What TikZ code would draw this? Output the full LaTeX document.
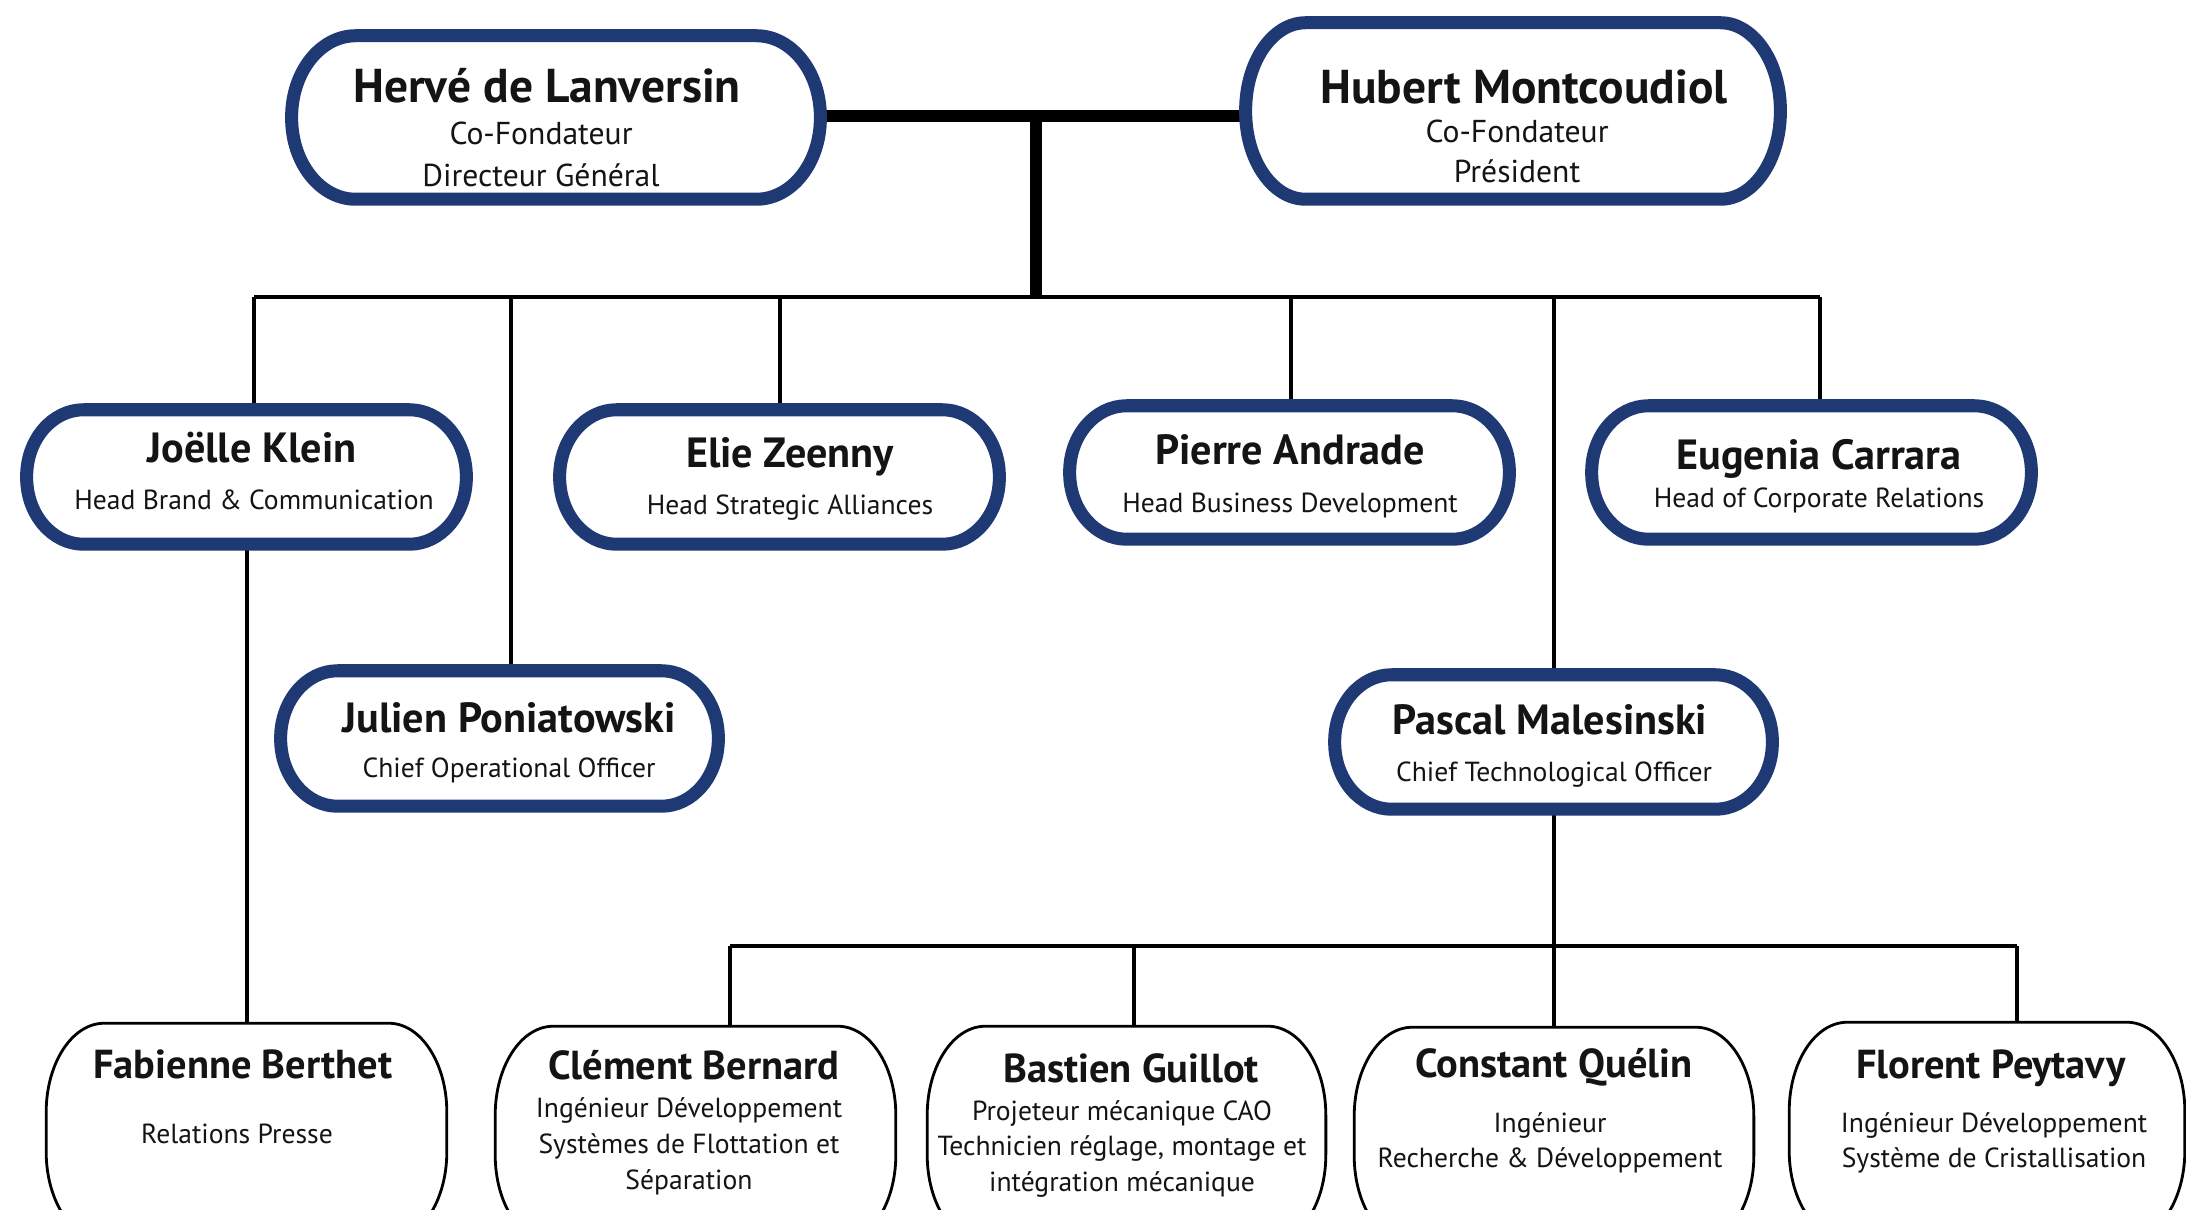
\documentclass[tikz,border=0pt]{standalone}
\usepackage{fontspec}
\setmainfont{PT Sans}
\usetikzlibrary{calc}
\definecolor{navy}{RGB}{30,57,116}
\definecolor{ink}{RGB}{20,20,20}
\newcommand\pillbox[4]{%
  \draw[#4] ($(#1.north west)+(#2,0)$) -- ($(#1.north east)+(-#2,0)$)
  arc[start angle=90,end angle=0,x radius=#2,y radius=#3]
  -- ($(#1.south east)+(0,#3)$)
  arc[start angle=0,end angle=-90,x radius=#2,y radius=#3]
  -- ($(#1.south west)+(#2,0)$)
  arc[start angle=270,end angle=180,x radius=#2,y radius=#3]
  -- ($(#1.north west)+(0,-#3)$)
  arc[start angle=180,end angle=90,x radius=#2,y radius=#3] -- cycle;}
\tikzset{
  boxnode/.style={rectangle, draw=none, inner sep=0pt},
  navybox/.style={draw=navy, line width=3.7pt, fill=white},
  plainbox/.style={draw=black, line width=0.8pt, fill=white},
  thickline/.style={draw=black, line width=3.4pt},
  conn/.style={draw=black, line width=1pt},
  nameA/.style={anchor=base, text=ink, font={\fontsize{13.5pt}{16pt}\selectfont\bfseries}},
  subA/.style={anchor=base, text=ink, font={\fontsize{9pt}{11pt}\selectfont}},
  nameB/.style={anchor=base, text=ink, font={\fontsize{12pt}{14pt}\selectfont\bfseries}},
  subB/.style={anchor=base, text=ink, font={\fontsize{7.85pt}{10pt}\selectfont}},
  nameC/.style={anchor=base, text=ink, font={\fontsize{11.5pt}{14pt}\selectfont\bfseries}},
}
\begin{document}
\begin{tikzpicture}[x=0.01cm, y=0.01cm]
\useasboundingbox (0,0) rectangle (2186,1209);
\clip (0,0) rectangle (2186,1209);
\fill[white] (0,0) rectangle (2186,1209);
% box anchors
\node[boxnode, minimum width=5.27cm, minimum height=1.62cm] (herve) at (556,1091.5) {};
\node[boxnode, minimum width=5.33cm, minimum height=1.75cm] (hubert) at (1513,1098) {};
\node[boxnode, minimum width=4.38cm, minimum height=1.33cm] (joelle) at (246.5,732) {};
\node[boxnode, minimum width=4.38cm, minimum height=1.33cm] (elie) at (779.5,732) {};
\node[boxnode, minimum width=4.38cm, minimum height=1.32cm] (pierre) at (1289.5,736.5) {};
\node[boxnode, minimum width=4.38cm, minimum height=1.32cm] (eugenia) at (1811.5,736.5) {};
\node[boxnode, minimum width=4.36cm, minimum height=1.34cm] (julien) at (499.5,470.5) {};
\node[boxnode, minimum width=4.36cm, minimum height=1.33cm] (pascal) at (1553.5,467) {};
\node[boxnode, minimum width=3.99cm, minimum height=2.16cm] (fabienne) at (246.5,77) {};
\node[boxnode, minimum width=3.99cm, minimum height=2.16cm] (clement) at (695.5,74) {};
\node[boxnode, minimum width=3.97cm, minimum height=2.16cm] (bastien) at (1126.5,74) {};
\node[boxnode, minimum width=3.98cm, minimum height=2.16cm] (constant) at (1554,73) {};
\node[boxnode, minimum width=3.94cm, minimum height=2.16cm] (florent) at (1987,78) {};
% junction coordinates
\coordinate (J) at (1036,1093);
\coordinate (busL) at (254,912);
\coordinate (busR) at (1820,912);
\coordinate (dJu) at (511,912);
\coordinate (dEl) at (780,912);
\coordinate (dPi) at (1291,912);
\coordinate (dPa) at (1554,912);
\coordinate (fx) at (247,600);
\coordinate (bus2) at (1554,263);
\coordinate (b2L) at (730,263);
\coordinate (b2B) at (1134,263);
\coordinate (b2R) at (2017,263);
% connectors
\draw[thickline] (herve.east |- J) -- (hubert.west |- J);
\draw[thickline] (J) -- (J |- busL);
\draw[conn] (busL) -- (busR);
\draw[conn] (busL) -- (busL |- joelle.north);
\draw[conn] (dJu) -- (dJu |- julien.north);
\draw[conn] (dEl) -- (dEl |- elie.north);
\draw[conn] (dPi) -- (dPi |- pierre.north);
\draw[conn] (dPa) -- (dPa |- pascal.north);
\draw[conn] (busR) -- (busR |- eugenia.north);
\draw[conn] (fx |- joelle.south) -- (fx |- fabienne.north);
\draw[conn] (pascal.south -| bus2) -- (bus2);
\draw[conn] (b2L) -- (b2R);
\draw[conn] (b2L) -- (b2L |- clement.north);
\draw[conn] (b2B) -- (b2B |- bastien.north);
\draw[conn] (bus2) -- (bus2 |- constant.north);
\draw[conn] (b2R) -- (b2R |- florent.north);
% boxes
\pillbox{herve}{64}{81}{navybox}
\pillbox{hubert}{60}{87.5}{navybox}
\pillbox{joelle}{57}{66.5}{navybox}
\pillbox{elie}{57}{66.5}{navybox}
\pillbox{pierre}{57}{66}{navybox}
\pillbox{eugenia}{57}{66}{navybox}
\pillbox{julien}{57}{67}{navybox}
\pillbox{pascal}{57}{66.5}{navybox}
\pillbox{fabienne}{58}{89}{plainbox}
\pillbox{clement}{58}{89}{plainbox}
\pillbox{bastien}{58}{89}{plainbox}
\pillbox{constant}{58}{89}{plainbox}
\pillbox{florent}{58}{89}{plainbox}
% texts
\node[nameA] (t01) at (547,1106) {Hervé de Lanversin};
\node[subA] (t02) at (541,1064) {Co-Fondateur};
\node[subA] (t03) at (541,1022) {Directeur Général};
\node[nameA] (t04) at (1524,1105) {Hubert Montcoudiol};
\node[subA] (t05) at (1517,1066) {Co-Fondateur};
\node[subA] (t06) at (1517,1026) {Président};
\node[nameB] (t07) at (252,746) {Joëlle Klein};
\node[subB] (t08) at (254,699) {Head Brand \& Communication};
\node[nameB] (t09) at (790,741) {Elie Zeenny};
\node[subB] (t10) at (790,694) {Head Strategic Alliances};
\node[nameB] (t11) at (1290,744) {Pierre Andrade};
\node[subB] (t12) at (1290,696) {Head Business Development};
\node[nameB] (t13) at (1819,739) {Eugenia Carrara};
\node[subB] (t14) at (1819,701) {Head of Corporate Relations};
\node[nameB] (t15) at (509,476) {Julien Poniatowski};
\node[subB] (t16) at (509,431) {Chief Operational Officer};
\node[nameB] (t17) at (1550,474) {Pascal Malesinski};
\node[subB] (t18) at (1554,427) {Chief Technological Officer};
\node[nameC] (t19) at (243,131) {Fabienne Berthet};
\node[subB] (t20) at (237,66) {Relations Presse};
\node[nameC] (t21) at (694,130) {Clément Bernard};
\node[subB] (t22) at (689,92) {Ingénieur Développement};
\node[subB] (t23) at (689,56) {Systèmes de Flottation et};
\node[subB] (t24) at (689,20) {Séparation};
\node[nameC] (t25) at (1131,127) {Bastien Guillot};
\node[subB] (t26) at (1122,89) {Projeteur mécanique CAO};
\node[subB] (t27) at (1122,54) {Technicien réglage, montage et};
\node[subB] (t28) at (1122,18) {intégration mécanique};
\node[nameC] (t29) at (1554,132) {Constant Quélin};
\node[subB] (t30) at (1550,77) {Ingénieur};
\node[subB] (t31) at (1550,42) {Recherche \& Développement};
\node[nameC] (t32) at (1991,131) {Florent Peytavy};
\node[subB] (t33) at (1994,77) {Ingénieur Développement};
\node[subB] (t34) at (1994,42) {Système de Cristallisation};
\end{tikzpicture}
\end{document}
